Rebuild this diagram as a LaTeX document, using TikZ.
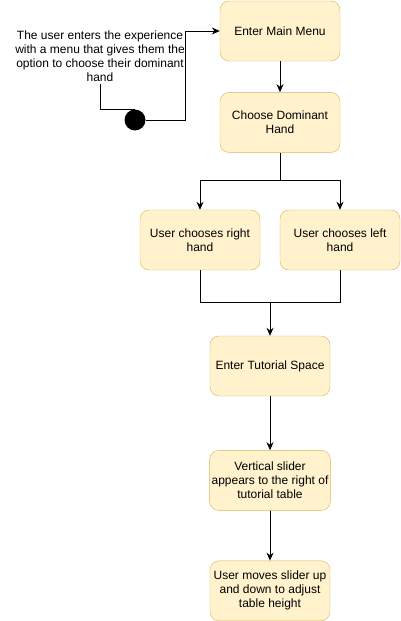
\documentclass[tikz,border=0pt]{standalone}
\usepackage{fontspec}
\setmainfont{Liberation Sans}
\usetikzlibrary{arrows.meta,positioning}
\definecolor{boxfill}{HTML}{FFF2CC}
\definecolor{boxline}{HTML}{D6B656}

\begin{document}
\begin{tikzpicture}[
    x=1pt, y=-1pt,
    state/.style={draw=boxline, fill=boxfill, rounded corners=9pt, minimum width=120pt, minimum height=60pt, align=center, inner sep=2pt, font=\fontsize{12}{14}\selectfont},
    note/.style={align=center, inner sep=2pt, font=\fontsize{12}{14}\selectfont},
    dot/.style={circle, fill=black, minimum size=21pt, inner sep=0pt},
    arrow/.style={-{Stealth[length=8pt,width=7pt]}, line width=0.9pt},
    line/.style={line width=0.9pt}
]
\useasboundingbox (0,0) rectangle (401,621);

\node[state] (main) at (280,31) {Enter Main Menu};
\node[state, below=31pt of main] (choose) {Choose Dominant\\Hand};
\node[state] (right) at (200,240) {User chooses right\\hand};
\node[state] (left) at (340,240) {User chooses left\\hand};
\node[state] (tutorial) at (270,366) {Enter Tutorial Space};
\node[state, below=54pt of tutorial] (slider) {Vertical slider\\appears to the right of\\tutorial table};
\node[state, below=50pt of slider] (adjust) {User moves slider up\\and down to adjust\\table height};

\node[note] (intro) at (100,56) {The user enters the experience\\with a menu that gives them the\\option to choose their dominant\\hand};
\node[dot] (start) at (135,120) {};

\coordinate (turn) at (185,31);
\coordinate (split) at (280,180);
\coordinate (merge) at (270,302);

\draw[line] (intro.south) |- (start.north);
\draw[arrow] (start.east) -| (turn) -- (main.west);
\draw[arrow] (main) -- (choose);
\draw[arrow] (choose.south) -- (split) -| (right.north);
\draw[arrow] (split) -| (left.north);
\draw[line] (right.south) |- (merge);
\draw[line] (left.south) |- (merge);
\draw[arrow] (merge) -- (tutorial.north);
\draw[arrow] (tutorial) -- (slider);
\draw[arrow] (slider) -- (adjust);

\end{tikzpicture}
\end{document}
